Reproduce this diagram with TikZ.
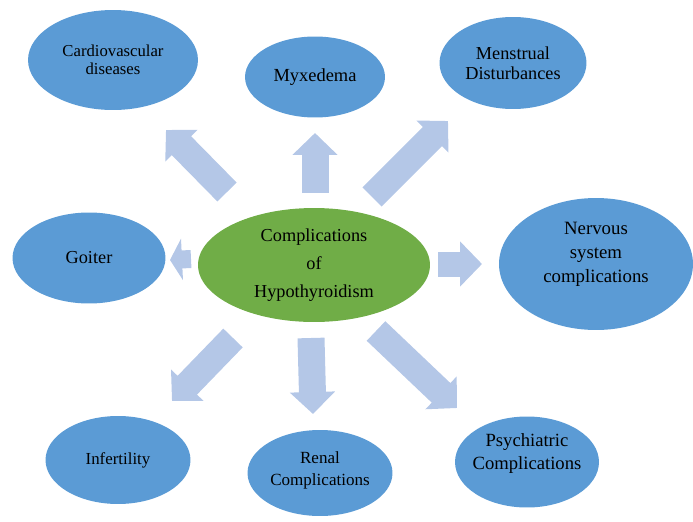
\documentclass[tikz,border=0pt]{standalone}
\usepackage{fontspec}
\setmainfont{Liberation Serif}
\usetikzlibrary{shapes.geometric,arrows.meta}

\definecolor{ovalblue}{HTML}{5B9BD5}
\definecolor{ovalgreen}{HTML}{70AD47}
\definecolor{arrowblue}{HTML}{B4C7E7}

\begin{document}
\begin{tikzpicture}[x=0.02cm,y=-0.02cm,
  oval/.style={ellipse,fill=ovalblue,inner sep=0pt,align=center,text=black},
  blockarrow/.style={draw=arrowblue,line width=0.54cm,
    -{Triangle[width=0.88cm,length=0.44cm]}},
  smallarrow/.style={draw=arrowblue,line width=0.36cm,
    -{Triangle[width=0.82cm,length=0.24cm]}}]
\useasboundingbox (0,0) rectangle (693,521);

% centre
\node[oval,fill=ovalgreen,minimum width=4.64cm,minimum height=2.28cm,
  font=\fontsize{10.4}{16}\selectfont] (hypo) at (314,265)
  {Complications\\of\\Hypothyroidism};

% outer ovals
\node[oval,minimum width=3.4cm,minimum height=2cm,
  font=\fontsize{9.5}{10.5}\selectfont] (cardio) at (113,60) {Cardiovascular\\diseases};
\node[oval,minimum width=2.8cm,minimum height=1.62cm,
  font=\fontsize{10.5}{12}\selectfont] (myx) at (315,77) {Myxedema};
\node[oval,minimum width=2.94cm,minimum height=1.84cm,
  font=\fontsize{10.4}{11.5}\selectfont] (menstr) at (513,63) {Menstrual\\Disturbances};
\node[oval,minimum width=3.06cm,minimum height=1.82cm,
  font=\fontsize{10.4}{12}\selectfont] (goiter) at (89,258) {Goiter};
\node[oval,minimum width=3.88cm,minimum height=2.64cm,text depth=13pt,
  font=\fontsize{10.7}{13.6}\selectfont] (nerv) at (596,264) {Nervous\\system\\complications};
\node[oval,minimum width=2.9cm,minimum height=1.76cm,
  font=\fontsize{9.6}{11}\selectfont] (infert) at (118,460) {Infertility};
\node[oval,minimum width=2.9cm,minimum height=1.72cm,text depth=5.5pt,
  font=\fontsize{9.7}{12.5}\selectfont] (renal) at (320,473) {Renal\\Complications};
\node[oval,minimum width=2.88cm,minimum height=1.82cm,text depth=12pt,inner xsep=-2pt,
  font=\fontsize{10.6}{13}\selectfont] (psych) at (527,462) {Psychiatric\\Complications};

% arrow ends
\coordinate (ulS) at (227,192);  \coordinate (ulE) at (166,130);
\coordinate (upS) at (315,193);  \coordinate (upE) at (315,133);
\coordinate (urS) at (372,197);  \coordinate (urE) at (448,121);
\coordinate (rtS) at (438,264);  \coordinate (rtE) at (482,264);
\coordinate (ltS) at (191,259);  \coordinate (ltE) at (170,260);
\coordinate (dlS) at (233,338);  \coordinate (dlE) at (172,401);
\coordinate (dnS) at (311,338);  \coordinate (dnE) at (313,414);
\coordinate (drS) at (376,331);  \coordinate (drE) at (457,408);

\draw[blockarrow] (ulS) -- (ulE);
\draw[blockarrow] (upS) -- (upE);
\draw[blockarrow] (urS) -- (urE);
\draw[blockarrow,line width=0.5cm] (rtS) -- (rtE);
\draw[smallarrow] (ltS) -- (ltE);
\draw[blockarrow] (dlS) -- (dlE);
\draw[blockarrow] (dnS) -- (dnE);
\draw[blockarrow] (drS) -- (drE);

\end{tikzpicture}
\end{document}
